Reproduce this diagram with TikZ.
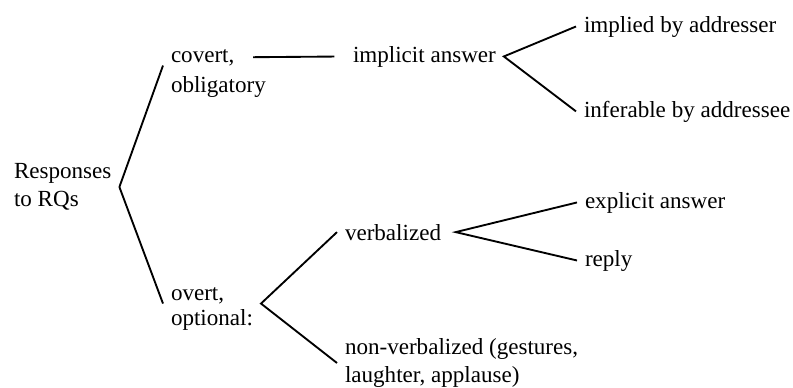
\documentclass[tikz,border=0pt]{standalone}
\usepackage{fontspec}
\setmainfont{Liberation Serif}
\usepackage{tikz}

\begin{document}
\begin{tikzpicture}[
    x=0.75pt, y=-0.75pt,
    line width=1.4pt,
    every node/.style={inner sep=0pt, outer xsep=6pt, outer ysep=0pt,
      font=\fontsize{17.3}{21}\selectfont}
  ]
  \useasboundingbox (0,0) rectangle (793,387);
  % first level
  \node[anchor=west, align=left] (resp) at (6,187) {Responses\\to RQs};
  \node[anchor=base west] (cov) at (163,62) {covert,};
  \node[anchor=base west] (obl) at (163,92) {obligatory};
  \node[anchor=base west] (ov) at (163,300) {overt,};
  \node[anchor=base west] (opt) at (163,325) {optional:};
  % second level
  \node[anchor=base west] (impl) at (345,62) {implicit answer};
  \node[anchor=base west] (verb) at (337,240) {verbalized};
  \node[anchor=west, align=left] (nonv) at (337,363)
    {non-verbalized (gestures,\\laughter, applause)};
  % third level
  \node[anchor=base west] (implied) at (576,32) {implied by addresser};
  \node[anchor=base west] (infer) at (576,117) {inferable by addressee};
  \node[anchor=base west] (expl) at (577,208) {explicit answer};
  \node[anchor=base west] (reply) at (577,266) {reply};

  \coordinate (ovfork) at (opt.east |- ov.south);
  \coordinate (verbfork) at ([xshift=5pt]verb.east);

  \draw (resp.east) -- (cov.south west);
  \draw (resp.east) -- (ov.south west);
  \draw[shorten <=8pt, shorten >=8pt] (cov.east) -- (impl.west);
  \draw (implied.west) -- (impl.east) -- (infer.west);
  \draw (verb.west) -- (ovfork) -- (nonv.west);
  \draw (expl.west) -- (verbfork) -- (reply.west);
\end{tikzpicture}
\end{document}
